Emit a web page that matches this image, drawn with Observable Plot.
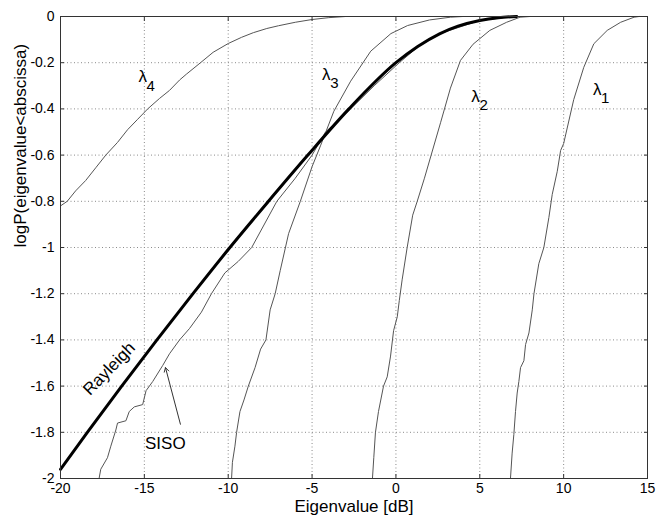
<!DOCTYPE html>
<html>
<head>
<meta charset="utf-8">
<script src="https://cdn.jsdelivr.net/npm/d3@7"></script>
<script src="https://cdn.jsdelivr.net/npm/@observablehq/plot@0.6"></script>
<style>
  html, body { margin: 0; padding: 0; background: #fff; }
  #chart svg { display: block; }
</style>
</head>
<body>
<div id="chart"></div>
<script>
// ---- data ----
const xTicks = [-20, -15, -10, -5, 0, 5, 10, 15];
const yTicks = [0, -0.2, -0.4, -0.6, -0.8, -1, -1.2, -1.4, -1.6, -1.8, -2];
const xTitle = "Eigenvalue [dB]";
const yTitle = "logP(eigenvalue<abscissa)";

const rayleighX = [-20, -18.4, -16.35, -14.25, -12.1, -9.9, -7.6, -5.25, -2.8, 0.0, 1.3, 2.6, 3.7, 5.0, 6.1, 7.2];
const rayleighY = [-1.96, -1.80, -1.60, -1.40, -1.20, -1.00, -0.80, -0.60, -0.40, -0.20, -0.13, -0.075, -0.042, -0.017, -0.005, 0];

const sisoX = [-17.7, -17.6, -17.2, -17.0, -16.7, -16.6, -16.1, -15.9, -15.6, -15.1, -14.9, -14.5, -13.9, -13.5, -12.9, -12.3, -11.6, -11.0, -10.2, -9.4, -8.6, -7.1, -6.0, -5.0, -4.2, -2.7, -1.3, 0.2, 1.5, 2.8, 5.0, 7.0];
const sisoY = [-2, -1.96, -1.91, -1.86, -1.79, -1.76, -1.75, -1.71, -1.69, -1.68, -1.62, -1.58, -1.51, -1.46, -1.40, -1.35, -1.28, -1.20, -1.11, -1.06, -1.00, -0.80, -0.70, -0.60, -0.50, -0.40, -0.30, -0.20, -0.12, -0.07, -0.017, 0];

const lambda4X = [-20, -19.6, -19.1, -18.5, -17.9, -17.3, -16.6, -16.0, -15.4, -14.8, -14.1, -13.5, -12.9, -12.5, -11.65, -10.9, -10.0, -9.2, -8.5, -7.7, -7.0, -6.0, -5.0, -4.0, -3.0];
const lambda4Y = [-0.82, -0.80, -0.755, -0.71, -0.655, -0.60, -0.545, -0.49, -0.445, -0.40, -0.355, -0.32, -0.275, -0.25, -0.20, -0.155, -0.117, -0.09, -0.07, -0.052, -0.04, -0.025, -0.013, -0.005, 0];

const lambda3X = [-9.8, -9.75, -9.6, -9.5, -9.3, -9.06, -8.8, -8.4, -8.07, -7.75, -7.5, -7.2, -6.9, -6.4, -5.7, -5.0, -4.5, -3.7, -2.7, -1.5, -0.3, 0.7, 2.0, 3.25, 4.0];
const lambda3Y = [-2, -1.93, -1.86, -1.80, -1.71, -1.66, -1.60, -1.52, -1.44, -1.40, -1.27, -1.20, -1.10, -0.94, -0.80, -0.65, -0.56, -0.41, -0.28, -0.15, -0.074, -0.039, -0.015, -0.003, 0];

const lambda2X = [-1.4, -1.32, -1.22, -1.04, -0.74, -0.52, -0.32, -0.14, 0.08, 0.2, 0.37, 0.67, 1.0, 1.27, 1.7, 2.1, 2.66, 3.25, 3.85, 4.6, 5.6, 6.6, 7.4, 8.0];
const lambda2Y = [-2, -1.91, -1.80, -1.71, -1.60, -1.56, -1.47, -1.36, -1.30, -1.23, -1.14, -1.00, -0.86, -0.80, -0.70, -0.60, -0.46, -0.31, -0.19, -0.12, -0.06, -0.025, -0.003, 0];

const lambda1X = [6.83, 6.93, 7.03, 7.13, 7.23, 7.33, 7.43, 7.63, 7.73, 7.93, 8.13, 8.23, 8.52, 8.82, 9.12, 9.32, 9.62, 9.82, 10.0, 10.6, 11.2, 11.8, 12.6, 13.4, 14.2, 14.5];
const lambda1Y = [-2, -1.89, -1.81, -1.71, -1.63, -1.58, -1.52, -1.49, -1.42, -1.37, -1.27, -1.20, -1.07, -1.00, -0.87, -0.77, -0.67, -0.58, -0.55, -0.36, -0.22, -0.118, -0.06, -0.025, -0.003, 0];

// annotation anchors (data units)
const lambdaLabels = [
  {name: "λ", sub: "4", x: -15.1, y: -0.262},
  {name: "λ", sub: "3", x: -4.15, y: -0.250},
  {name: "λ", sub: "2", x: 4.75, y: -0.345},
  {name: "λ", sub: "1", x: 12.0, y: -0.315}
];
const rayleighLabel = [{text: "Rayleigh", x: -17.1, y: -1.525}];
const sisoLabel = [{text: "SISO", x: -13.75, y: -1.85}];
const sisoArrow = [{x1: -12.85, y1: -1.765, x2: -13.74, y2: -1.52}];

// ---- build series ----
const zip = (xs, ys) => xs.map((x, i) => ({x, y: ys[i]}));
const thin = [
  zip(lambda4X, lambda4Y),
  zip(lambda3X, lambda3Y),
  zip(sisoX, sisoY),
  zip(lambda2X, lambda2Y),
  zip(lambda1X, lambda1Y)
];
const rayleigh = zip(rayleighX, rayleighY);

const font = "'Liberation Sans', Arial, Helvetica, sans-serif";
const fmt = d => String(+(+d).toFixed(1));

const chart = Plot.plot({
  width: 656,
  height: 523,
  marginLeft: 60,
  marginRight: 9,
  marginTop: 16,
  marginBottom: 45,
  style: {fontFamily: font, fontSize: "14px", color: "#000", background: "#fff"},
  x: {domain: [-20, 15], ticks: xTicks},
  y: {domain: [-2, 0], ticks: yTicks},
  marks: [
    Plot.gridX(xTicks, {stroke: "#8a8a8a", strokeOpacity: 1, strokeDasharray: "1,2.5"}),
    Plot.gridY(yTicks, {stroke: "#8a8a8a", strokeOpacity: 1, strokeDasharray: "1,2.5"}),
    ...thin.map(s => Plot.line(s, {x: "x", y: "y", stroke: "#555", strokeWidth: 1})),
    Plot.line(rayleigh, {x: "x", y: "y", stroke: "#000", strokeWidth: 3, curve: "monotone-x"}),
    Plot.frame({stroke: "#333", strokeWidth: 1}),
    // inward ticks
    Plot.axisX(xTicks, {anchor: "bottom", tickSize: -4, fill: "none", label: null, stroke: "#333"}),
    Plot.axisX(xTicks, {anchor: "top", tickSize: -4, fill: "none", label: null, stroke: "#333"}),
    Plot.axisY(yTicks, {anchor: "left", tickSize: -4, fill: "none", label: null, stroke: "#333"}),
    Plot.axisY(yTicks, {anchor: "right", tickSize: -4, fill: "none", label: null, stroke: "#333"}),
    // tick labels
    Plot.axisX(xTicks, {anchor: "bottom", tickSize: 0, tickPadding: 5, tickFormat: fmt, fontSize: 14, label: null}),
    Plot.axisY(yTicks, {anchor: "left", tickSize: 0, tickPadding: 6, tickFormat: fmt, fontSize: 14, label: null}),
    // axis titles
    Plot.text([xTitle], {text: d => d, frameAnchor: "bottom", dy: 33, fontSize: 17, fill: "#000"}),
    Plot.text([yTitle], {text: d => d, frameAnchor: "left", dx: -40, rotate: -90, fontSize: 17, fill: "#000"}),
    // annotations
    Plot.text(lambdaLabels, {x: "x", y: "y", text: "name", fontSize: 17, fill: "#000"}),
    Plot.text(lambdaLabels, {x: "x", y: "y", text: "sub", fontSize: 15, dx: 8, dy: 9, fill: "#000"}),
    Plot.text(rayleighLabel, {x: "x", y: "y", text: "text", rotate: -46, fontSize: 17, fill: "#000"}),
    Plot.text(sisoLabel, {x: "x", y: "y", text: "text", fontSize: 17, fill: "#000"}),
    Plot.arrow(sisoArrow, {x1: "x1", y1: "y1", x2: "x2", y2: "y2", stroke: "#333", strokeWidth: 1, headLength: 7, bend: 0})
  ]
});
document.getElementById("chart").appendChild(chart);
</script>
</body>
</html>
